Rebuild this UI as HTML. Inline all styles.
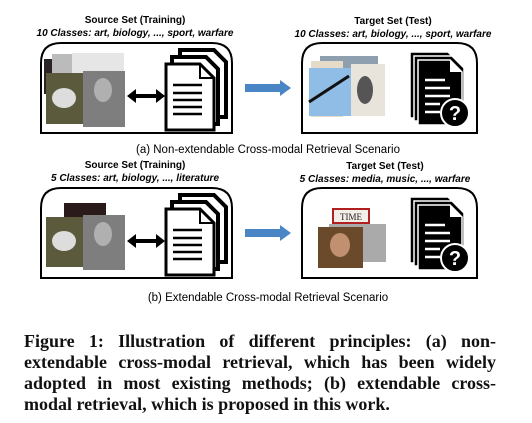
<!DOCTYPE html>
<html><head><meta charset="utf-8"><style>
body{margin:0;background:#fff;width:532px;height:423px;overflow:hidden;position:relative}
svg{position:absolute;left:0;top:0}
.cap{position:absolute;left:24px;top:331px;width:472px;font-family:"Liberation Serif",serif;font-weight:bold;font-size:18px;line-height:21px;color:#111}
.cap div{text-align:justify;text-align-last:justify;white-space:nowrap}
.cap div.l{text-align-last:left}
</style></head><body>
<svg width="532" height="320" viewBox="0 0 532 320" font-family="Liberation Sans, sans-serif">
<defs>
<g id="src">
<path d="M41,133 V63 Q41,43 61,43 H212 Q232,43 232,63 V133 Z" fill="#fff" stroke="#000" stroke-width="2"/>
<path d="M180,50 H214 L226,62 V117 H180 Z" fill="#fff" stroke="#000" stroke-width="4"/>
<path d="M172,57 H206 L218,69 V124 H172 Z" fill="#fff" stroke="#000" stroke-width="4"/>
<path d="M166,64 H200 L214,78 V130 H166 Z" fill="#fff" stroke="#000" stroke-width="3"/>
<path d="M200,64 V78 H214" fill="none" stroke="#000" stroke-width="2"/>
<g stroke="#000" stroke-width="2.5"><line x1="173" y1="85" x2="202" y2="85"/><line x1="173" y1="93" x2="202" y2="93"/><line x1="173" y1="100" x2="202" y2="100"/><line x1="173" y1="107" x2="202" y2="107"/><line x1="173" y1="114" x2="202" y2="114"/></g>
<line x1="133" y1="96" x2="159" y2="96" stroke="#000" stroke-width="4"/>
<path d="M127,96 L136,89 V103 Z M165,96 L156,89 V103 Z" fill="#000"/>
</g>
<g id="tgt">
<path d="M302,133 V63 Q302,43 322,43 H457 Q477,43 477,63 V133 Z" fill="#fff" stroke="#000" stroke-width="2"/>
<path d="M410,52 H448 L460,64 V118 H410 Z" fill="#000" stroke="#fff" stroke-width="1.5"/>
<path d="M414,56 H452 L464,68 V121 H414 Z" fill="#000" stroke="#fff" stroke-width="1.5"/>
<path d="M418,60 H450 L462,72 V125 H418 Z" fill="#000" stroke="#fff" stroke-width="1.5"/>
<path d="M450,60 V72 H462 Z" fill="#fff"/>
<g stroke="#fff" stroke-width="2.5"><line x1="425" y1="80" x2="445" y2="80"/><line x1="425" y1="88" x2="450" y2="88"/><line x1="425" y1="96" x2="450" y2="96"/><line x1="425" y1="104" x2="440" y2="104"/><line x1="425" y1="112" x2="440" y2="112"/></g>
<circle cx="455" cy="113" r="14" fill="#000" stroke="#fff" stroke-width="2"/>
<text x="455" y="120" fill="#fff" font-size="20" font-weight="bold" text-anchor="middle">?</text>
</g>
<g id="blue"><rect x="245" y="84" width="36" height="8" fill="#4a86c6"/><path d="M280,80 L291,88 L280,96 Z" fill="#4a86c6"/></g>
</defs>

<text x="135" y="23" font-size="10" font-weight="bold" text-anchor="middle">Source Set (Training)</text>
<text x="135" y="36" font-size="10" font-weight="bold" font-style="italic" text-anchor="middle">10 Classes: art, biology, ..., sport, warfare</text>
<text x="393" y="24" font-size="10" font-weight="bold" text-anchor="middle">Target Set (Test)</text>
<text x="393" y="37" font-size="10" font-weight="bold" font-style="italic" text-anchor="middle">10 Classes: art, biology, ..., sport, warfare</text>
<use href="#src"/><use href="#tgt"/><use href="#blue"/>
<rect x="44" y="59" width="26" height="35" fill="#2a2424"/>
<rect x="52" y="54" width="20" height="25" fill="#bbb"/>
<rect x="72" y="53" width="52" height="24" fill="#e6e6e6"/>
<rect x="46" y="73" width="37" height="51" fill="#5c5a3c"/>
<ellipse cx="64" cy="98" rx="12" ry="10" fill="#ddd"/>
<rect x="83" y="71" width="42" height="56" fill="#7e7e7e"/>
<ellipse cx="103" cy="90" rx="9" ry="12" fill="#b0b0b0"/>
<rect x="320" y="56" width="58" height="30" fill="#8ea0b0"/>
<rect x="311" y="61" width="32" height="56" fill="#e4dcc8"/>
<rect x="309" y="68" width="42" height="48" fill="#8fbde6"/>
<line x1="309" y1="102" x2="349" y2="76" stroke="#111" stroke-width="3"/>
<rect x="351" y="64" width="34" height="52" fill="#e8e4dc"/>
<ellipse cx="365" cy="90" rx="8" ry="14" fill="#555"/>
<text x="268" y="153" font-size="11.5" text-anchor="middle">(a) Non-extendable Cross-modal Retrieval Scenario</text>

<g transform="translate(0,145)">
<text x="135" y="23" font-size="10" font-weight="bold" text-anchor="middle">Source Set (Training)</text>
<text x="135" y="36" font-size="10" font-weight="bold" font-style="italic" text-anchor="middle">5 Classes: art, biology, ..., literature</text>
<text x="385" y="24" font-size="10" font-weight="bold" text-anchor="middle">Target Set (Test)</text>
<text x="385" y="37" font-size="10" font-weight="bold" font-style="italic" text-anchor="middle">5 Classes: media, music, ..., warfare</text>
</g>
<g transform="translate(0,145)">
<use href="#src"/><use href="#tgt"/><use href="#blue"/>
<rect x="64" y="58" width="42" height="20" fill="#2a1a1a"/>
<rect x="46" y="72" width="37" height="50" fill="#5c5a3c"/>
<ellipse cx="64" cy="96" rx="12" ry="10" fill="#ddd"/>
<rect x="83" y="70" width="42" height="55" fill="#7e7e7e"/>
<ellipse cx="103" cy="89" rx="9" ry="12" fill="#b0b0b0"/>
<rect x="333" y="64" width="36" height="14" fill="#f4eee8" stroke="#b02020" stroke-width="2"/>
<text x="351" y="75" font-size="9" font-family="Liberation Serif,serif" text-anchor="middle" fill="#222">TIME</text>
<rect x="329" y="79" width="57" height="38" fill="#aaa"/>
<rect x="318" y="82" width="45" height="41" fill="#6a4a2a"/>
<ellipse cx="340" cy="100" rx="10" ry="12" fill="#c09070"/>
</g>
<text x="268" y="301" font-size="11.5" text-anchor="middle">(b) Extendable Cross-modal Retrieval Scenario</text>
</svg>
<div class="cap">
<div>Figure 1: Illustration of different principles: (a) non-</div>
<div>extendable cross-modal retrieval, which has been widely</div>
<div>adopted in most existing methods; (b) extendable cross-</div>
<div class="l">modal retrieval, which is proposed in this work.</div>
</div>
</body></html>
